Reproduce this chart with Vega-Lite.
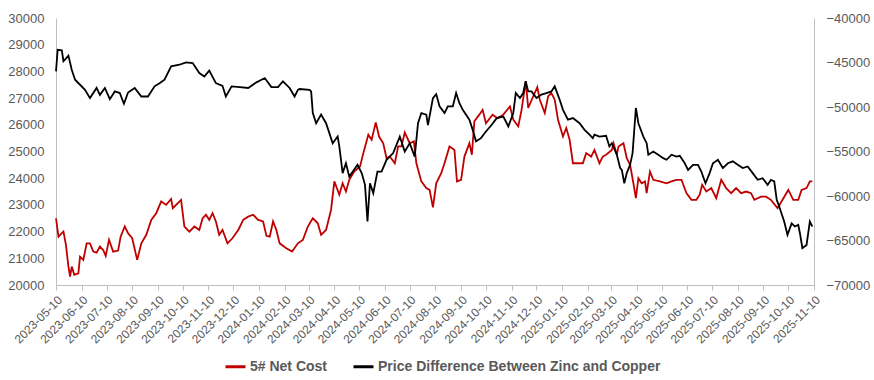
{
  "$schema": "https://vega.github.io/schema/vega-lite/v6.json",
  "width": 758,
  "height": 267,
  "autosize": {"type": "none"},
  "padding": {"left": 56, "top": 18, "right": 60, "bottom": 95},
  "background": "white",
  "config": {
    "view": {"stroke": null},
    "font": "Liberation Sans",
    "axis": {"grid": false, "domainColor": "#BFBFBF", "labelColor": "#595959", "tickColor": "#BFBFBF", "labelFont": "Liberation Sans"}
  },
  "datasets": {
    "cost": [
      {"d":"2023-05-10","v":22500},{"d":"2023-05-13","v":21810},{"d":"2023-05-17","v":21940},{"d":"2023-05-19","v":22000},{"d":"2023-05-22","v":21500},{"d":"2023-05-25","v":20690},{"d":"2023-05-27","v":20310},{"d":"2023-05-29","v":20690},{"d":"2023-06-01","v":20380},{"d":"2023-06-06","v":20440},{"d":"2023-06-08","v":21060},{"d":"2023-06-12","v":20940},{"d":"2023-06-16","v":21560},{"d":"2023-06-20","v":21560},{"d":"2023-06-24","v":21250},{"d":"2023-06-28","v":21210},{"d":"2023-07-02","v":21440},{"d":"2023-07-06","v":21310},{"d":"2023-07-09","v":21090},{"d":"2023-07-13","v":21690},{"d":"2023-07-18","v":21250},{"d":"2023-07-24","v":21290},{"d":"2023-07-27","v":21810},{"d":"2023-08-01","v":22190},{"d":"2023-08-05","v":21940},{"d":"2023-08-10","v":21750},{"d":"2023-08-16","v":20940},{"d":"2023-08-21","v":21560},{"d":"2023-08-27","v":21880},{"d":"2023-09-02","v":22440},{"d":"2023-09-08","v":22690},{"d":"2023-09-14","v":23130},{"d":"2023-09-20","v":23000},{"d":"2023-09-26","v":23220},{"d":"2023-09-28","v":22880},{"d":"2023-10-08","v":23190},{"d":"2023-10-12","v":22190},{"d":"2023-10-18","v":22000},{"d":"2023-10-24","v":22190},{"d":"2023-10-30","v":22060},{"d":"2023-11-03","v":22500},{"d":"2023-11-07","v":22630},{"d":"2023-11-11","v":22440},{"d":"2023-11-15","v":22690},{"d":"2023-11-19","v":22380},{"d":"2023-11-23","v":21880},{"d":"2023-11-27","v":22060},{"d":"2023-12-03","v":21560},{"d":"2023-12-09","v":21750},{"d":"2023-12-16","v":22060},{"d":"2023-12-22","v":22440},{"d":"2023-12-28","v":22560},{"d":"2024-01-03","v":22630},{"d":"2024-01-09","v":22440},{"d":"2024-01-15","v":22380},{"d":"2024-01-19","v":21840},{"d":"2024-01-23","v":21810},{"d":"2024-01-27","v":22380},{"d":"2024-01-31","v":22060},{"d":"2024-02-04","v":21560},{"d":"2024-02-12","v":21380},{"d":"2024-02-19","v":21250},{"d":"2024-02-26","v":21560},{"d":"2024-03-03","v":21690},{"d":"2024-03-09","v":22190},{"d":"2024-03-15","v":22500},{"d":"2024-03-21","v":22310},{"d":"2024-03-25","v":21880},{"d":"2024-03-31","v":22060},{"d":"2024-04-06","v":22810},{"d":"2024-04-10","v":23880},{"d":"2024-04-16","v":23380},{"d":"2024-04-20","v":23810},{"d":"2024-04-24","v":23500},{"d":"2024-04-28","v":23940},{"d":"2024-05-04","v":24250},{"d":"2024-05-11","v":24440},{"d":"2024-05-15","v":24940},{"d":"2024-05-21","v":25630},{"d":"2024-05-25","v":25440},{"d":"2024-05-30","v":26090},{"d":"2024-06-03","v":25560},{"d":"2024-06-08","v":25310},{"d":"2024-06-12","v":24750},{"d":"2024-06-16","v":24810},{"d":"2024-06-22","v":24560},{"d":"2024-06-26","v":25190},{"d":"2024-06-30","v":25190},{"d":"2024-07-04","v":25710},{"d":"2024-07-10","v":25310},{"d":"2024-07-15","v":25380},{"d":"2024-07-18","v":24560},{"d":"2024-07-24","v":23880},{"d":"2024-07-30","v":23630},{"d":"2024-08-03","v":23560},{"d":"2024-08-07","v":22910},{"d":"2024-08-11","v":23810},{"d":"2024-08-17","v":24190},{"d":"2024-08-21","v":24560},{"d":"2024-08-27","v":25190},{"d":"2024-09-02","v":25060},{"d":"2024-09-05","v":23880},{"d":"2024-09-10","v":23940},{"d":"2024-09-14","v":24810},{"d":"2024-09-20","v":25310},{"d":"2024-09-23","v":24880},{"d":"2024-09-26","v":26130},{"d":"2024-10-02","v":26380},{"d":"2024-10-06","v":26560},{"d":"2024-10-10","v":26060},{"d":"2024-10-18","v":26380},{"d":"2024-10-24","v":26250},{"d":"2024-10-31","v":26380},{"d":"2024-11-08","v":26690},{"d":"2024-11-12","v":26190},{"d":"2024-11-18","v":25940},{"d":"2024-11-22","v":26560},{"d":"2024-11-27","v":27630},{"d":"2024-11-30","v":26630},{"d":"2024-12-06","v":27060},{"d":"2024-12-11","v":27410},{"d":"2024-12-14","v":26940},{"d":"2024-12-20","v":26440},{"d":"2024-12-24","v":27060},{"d":"2024-12-28","v":27190},{"d":"2025-01-01","v":26940},{"d":"2025-01-05","v":26190},{"d":"2025-01-11","v":25560},{"d":"2025-01-15","v":25880},{"d":"2025-01-19","v":25440},{"d":"2025-01-23","v":24560},{"d":"2025-01-29","v":24560},{"d":"2025-02-04","v":24560},{"d":"2025-02-08","v":24940},{"d":"2025-02-14","v":24810},{"d":"2025-02-18","v":25060},{"d":"2025-02-24","v":24560},{"d":"2025-02-28","v":24810},{"d":"2025-03-04","v":24880},{"d":"2025-03-11","v":25060},{"d":"2025-03-13","v":25310},{"d":"2025-03-17","v":24880},{"d":"2025-03-19","v":25190},{"d":"2025-03-25","v":25310},{"d":"2025-03-29","v":24750},{"d":"2025-04-02","v":24500},{"d":"2025-04-06","v":23810},{"d":"2025-04-09","v":23250},{"d":"2025-04-12","v":24000},{"d":"2025-04-16","v":23810},{"d":"2025-04-20","v":23880},{"d":"2025-04-22","v":23440},{"d":"2025-04-26","v":24250},{"d":"2025-04-30","v":23940},{"d":"2025-05-08","v":23880},{"d":"2025-05-16","v":23810},{"d":"2025-05-22","v":23880},{"d":"2025-05-28","v":23940},{"d":"2025-06-03","v":23940},{"d":"2025-06-09","v":23440},{"d":"2025-06-15","v":23190},{"d":"2025-06-21","v":23190},{"d":"2025-06-25","v":23380},{"d":"2025-06-28","v":23750},{"d":"2025-07-03","v":23500},{"d":"2025-07-09","v":23630},{"d":"2025-07-15","v":23250},{"d":"2025-07-21","v":23940},{"d":"2025-07-27","v":23630},{"d":"2025-08-02","v":23440},{"d":"2025-08-08","v":23630},{"d":"2025-08-14","v":23440},{"d":"2025-08-20","v":23500},{"d":"2025-08-26","v":23440},{"d":"2025-08-30","v":23190},{"d":"2025-09-07","v":23310},{"d":"2025-09-13","v":23310},{"d":"2025-09-19","v":23190},{"d":"2025-09-27","v":22880},{"d":"2025-10-03","v":23190},{"d":"2025-10-10","v":23560},{"d":"2025-10-16","v":23190},{"d":"2025-10-22","v":23190},{"d":"2025-10-26","v":23560},{"d":"2025-11-01","v":23630},{"d":"2025-11-05","v":23880},{"d":"2025-11-08","v":23880}
    ],
    "diff": [
      {"d":"2023-05-10","v":-46000},{"d":"2023-05-12","v":-43570},{"d":"2023-05-17","v":-43630},{"d":"2023-05-19","v":-44860},{"d":"2023-05-25","v":-44230},{"d":"2023-05-29","v":-45820},{"d":"2023-06-02","v":-46930},{"d":"2023-06-08","v":-47500},{"d":"2023-06-14","v":-48070},{"d":"2023-06-20","v":-49000},{"d":"2023-06-28","v":-47860},{"d":"2023-07-02","v":-48640},{"d":"2023-07-08","v":-47860},{"d":"2023-07-14","v":-49120},{"d":"2023-07-20","v":-48250},{"d":"2023-07-26","v":-48430},{"d":"2023-07-31","v":-49630},{"d":"2023-08-05","v":-48370},{"d":"2023-08-13","v":-47860},{"d":"2023-08-21","v":-48820},{"d":"2023-08-29","v":-48820},{"d":"2023-09-06","v":-47680},{"d":"2023-09-12","v":-47320},{"d":"2023-09-18","v":-46930},{"d":"2023-09-26","v":-45430},{"d":"2023-10-06","v":-45250},{"d":"2023-10-14","v":-44980},{"d":"2023-10-22","v":-45070},{"d":"2023-10-30","v":-46180},{"d":"2023-11-05","v":-46570},{"d":"2023-11-11","v":-45910},{"d":"2023-11-19","v":-47320},{"d":"2023-11-27","v":-47620},{"d":"2023-12-01","v":-48820},{"d":"2023-12-08","v":-47680},{"d":"2023-12-18","v":-47770},{"d":"2023-12-28","v":-47860},{"d":"2024-01-07","v":-47230},{"d":"2024-01-17","v":-46750},{"d":"2024-01-25","v":-47770},{"d":"2024-02-02","v":-47770},{"d":"2024-02-08","v":-47110},{"d":"2024-02-16","v":-47860},{"d":"2024-02-22","v":-48820},{"d":"2024-02-26","v":-48070},{"d":"2024-02-28","v":-47980},{"d":"2024-03-11","v":-48070},{"d":"2024-03-13","v":-48250},{"d":"2024-03-15","v":-50680},{"d":"2024-03-19","v":-51820},{"d":"2024-03-25","v":-50860},{"d":"2024-03-31","v":-51820},{"d":"2024-04-08","v":-54070},{"d":"2024-04-14","v":-53320},{"d":"2024-04-16","v":-54430},{"d":"2024-04-20","v":-57430},{"d":"2024-04-24","v":-56320},{"d":"2024-04-28","v":-57820},{"d":"2024-05-08","v":-56500},{"d":"2024-05-13","v":-57430},{"d":"2024-05-17","v":-58750},{"d":"2024-05-20","v":-62860},{"d":"2024-05-23","v":-58570},{"d":"2024-05-27","v":-59680},{"d":"2024-06-01","v":-57250},{"d":"2024-06-06","v":-57250},{"d":"2024-06-12","v":-55930},{"d":"2024-06-20","v":-55180},{"d":"2024-06-28","v":-53320},{"d":"2024-07-04","v":-55000},{"d":"2024-07-10","v":-54070},{"d":"2024-07-16","v":-55570},{"d":"2024-07-20","v":-51820},{"d":"2024-07-24","v":-50680},{"d":"2024-07-30","v":-50860},{"d":"2024-08-01","v":-52030},{"d":"2024-08-07","v":-49000},{"d":"2024-08-11","v":-48550},{"d":"2024-08-15","v":-49930},{"d":"2024-08-21","v":-50680},{"d":"2024-08-25","v":-49930},{"d":"2024-08-31","v":-49930},{"d":"2024-09-04","v":-48430},{"d":"2024-09-08","v":-49570},{"d":"2024-09-12","v":-50320},{"d":"2024-09-20","v":-51430},{"d":"2024-09-24","v":-52570},{"d":"2024-09-28","v":-53860},{"d":"2024-10-04","v":-53500},{"d":"2024-10-10","v":-52750},{"d":"2024-10-17","v":-52000},{"d":"2024-10-23","v":-51250},{"d":"2024-10-31","v":-51070},{"d":"2024-11-06","v":-52180},{"d":"2024-11-12","v":-50680},{"d":"2024-11-15","v":-48430},{"d":"2024-11-20","v":-49000},{"d":"2024-11-24","v":-48430},{"d":"2024-11-27","v":-47110},{"d":"2024-11-30","v":-48250},{"d":"2024-12-04","v":-48250},{"d":"2024-12-10","v":-49000},{"d":"2024-12-16","v":-48610},{"d":"2024-12-22","v":-48430},{"d":"2024-12-28","v":-48250},{"d":"2025-01-01","v":-47680},{"d":"2025-01-07","v":-49180},{"d":"2025-01-11","v":-50320},{"d":"2025-01-17","v":-51430},{"d":"2025-01-23","v":-51250},{"d":"2025-01-31","v":-51820},{"d":"2025-02-06","v":-52570},{"d":"2025-02-12","v":-53110},{"d":"2025-02-16","v":-53500},{"d":"2025-02-18","v":-53110},{"d":"2025-02-24","v":-53320},{"d":"2025-03-04","v":-53230},{"d":"2025-03-08","v":-54430},{"d":"2025-03-11","v":-54070},{"d":"2025-03-17","v":-55360},{"d":"2025-03-21","v":-56860},{"d":"2025-03-23","v":-57070},{"d":"2025-03-26","v":-58570},{"d":"2025-03-29","v":-57430},{"d":"2025-04-02","v":-56500},{"d":"2025-04-05","v":-55180},{"d":"2025-04-09","v":-50110},{"d":"2025-04-12","v":-51820},{"d":"2025-04-18","v":-53320},{"d":"2025-04-22","v":-54070},{"d":"2025-04-24","v":-55360},{"d":"2025-04-30","v":-55000},{"d":"2025-05-06","v":-55360},{"d":"2025-05-12","v":-55750},{"d":"2025-05-16","v":-55930},{"d":"2025-05-22","v":-55360},{"d":"2025-05-28","v":-55570},{"d":"2025-06-01","v":-55480},{"d":"2025-06-07","v":-56320},{"d":"2025-06-11","v":-57070},{"d":"2025-06-17","v":-56500},{"d":"2025-06-23","v":-56500},{"d":"2025-06-27","v":-57250},{"d":"2025-07-02","v":-58570},{"d":"2025-07-07","v":-57430},{"d":"2025-07-11","v":-56320},{"d":"2025-07-17","v":-55930},{"d":"2025-07-23","v":-56860},{"d":"2025-07-29","v":-56320},{"d":"2025-08-04","v":-56110},{"d":"2025-08-10","v":-56500},{"d":"2025-08-16","v":-56860},{"d":"2025-08-22","v":-56680},{"d":"2025-08-28","v":-57430},{"d":"2025-09-03","v":-58180},{"d":"2025-09-09","v":-58000},{"d":"2025-09-15","v":-58750},{"d":"2025-09-19","v":-58180},{"d":"2025-09-23","v":-58360},{"d":"2025-09-26","v":-60430},{"d":"2025-09-29","v":-61180},{"d":"2025-10-05","v":-62860},{"d":"2025-10-09","v":-64360},{"d":"2025-10-14","v":-63070},{"d":"2025-10-18","v":-63430},{"d":"2025-10-22","v":-63250},{"d":"2025-10-24","v":-64180},{"d":"2025-10-27","v":-65860},{"d":"2025-11-01","v":-65500},{"d":"2025-11-05","v":-62860},{"d":"2025-11-08","v":-63430}
    ]
  },
  "encoding": {
    "x": {
      "field": "d",
      "type": "temporal",
      "scale": {"type": "utc", "domain": [{"year": 2023, "month": 5, "date": 10, "utc": true}, {"year": 2025, "month": 11, "date": 10, "utc": true}]},
      "axis": {
        "title": null,
        "format": "%Y-%m-%d",
        "values": [
          {"year":2023,"month":5,"date":10,"utc":true},{"year":2023,"month":6,"date":10,"utc":true},{"year":2023,"month":7,"date":10,"utc":true},{"year":2023,"month":8,"date":10,"utc":true},{"year":2023,"month":9,"date":10,"utc":true},{"year":2023,"month":10,"date":10,"utc":true},{"year":2023,"month":11,"date":10,"utc":true},{"year":2023,"month":12,"date":10,"utc":true},
          {"year":2024,"month":1,"date":10,"utc":true},{"year":2024,"month":2,"date":10,"utc":true},{"year":2024,"month":3,"date":10,"utc":true},{"year":2024,"month":4,"date":10,"utc":true},{"year":2024,"month":5,"date":10,"utc":true},{"year":2024,"month":6,"date":10,"utc":true},{"year":2024,"month":7,"date":10,"utc":true},{"year":2024,"month":8,"date":10,"utc":true},{"year":2024,"month":9,"date":10,"utc":true},{"year":2024,"month":10,"date":10,"utc":true},{"year":2024,"month":11,"date":10,"utc":true},{"year":2024,"month":12,"date":10,"utc":true},
          {"year":2025,"month":1,"date":10,"utc":true},{"year":2025,"month":2,"date":10,"utc":true},{"year":2025,"month":3,"date":10,"utc":true},{"year":2025,"month":4,"date":10,"utc":true},{"year":2025,"month":5,"date":10,"utc":true},{"year":2025,"month":6,"date":10,"utc":true},{"year":2025,"month":7,"date":10,"utc":true},{"year":2025,"month":8,"date":10,"utc":true},{"year":2025,"month":9,"date":10,"utc":true},{"year":2025,"month":10,"date":10,"utc":true},{"year":2025,"month":11,"date":10,"utc":true}
        ],
        "labelAngle": -45,
        "labelAlign": "right",
        "labelBaseline": "top",
        "labelFontSize": 12,
        "labelPadding": 4,
        "tickSize": 5,
        "labelOverlap": false,
        "labelBound": false,
        "labelFlush": false
      }
    }
  },
  "layer": [
    {
      "data": {"name": "cost"},
      "mark": {"type": "line", "strokeWidth": 1.8, "interpolate": "linear"},
      "encoding": {
        "y": {
          "field": "v",
          "type": "quantitative",
          "scale": {"domain": [20000, 30000], "zero": false, "nice": false},
          "axis": {"title": null, "orient": "left", "values": [20000,21000,22000,23000,24000,25000,26000,27000,28000,29000,30000], "format": "d", "labelFontSize": 13, "ticks": false, "labelPadding": 12, "labelOverlap": false}
        },
        "color": {
          "datum": "5# Net Cost",
          "type": "nominal",
          "scale": {"domain": ["5# Net Cost", "Price Difference Between Zinc and Copper"], "range": ["#C00000", "#000000"]},
          "legend": {
            "title": null,
            "orient": "none",
            "legendX": 168,
            "legendY": 337,
            "direction": "horizontal",
            "symbolType": "stroke",
            "symbolStrokeWidth": 3,
            "symbolSize": 400,
            "labelFontSize": 14,
            "labelFontWeight": "bold",
            "labelColor": "#595959",
            "labelLimit": 400,
            "columnPadding": 19,
            "labelOffset": 3
          }
        }
      }
    },
    {
      "data": {"name": "diff"},
      "mark": {"type": "line", "strokeWidth": 1.8, "interpolate": "linear"},
      "encoding": {
        "y": {
          "field": "v",
          "type": "quantitative",
          "scale": {"domain": [-70000, -40000], "zero": false, "nice": false},
          "axis": {"title": null, "orient": "right", "values": [-70000,-65000,-60000,-55000,-50000,-45000,-40000], "format": "d", "labelFontSize": 13, "ticks": false, "labelPadding": 12, "labelOverlap": false}
        },
        "color": {"datum": "Price Difference Between Zinc and Copper", "type": "nominal"}
      }
    }
  ],
  "resolve": {"scale": {"y": "independent"}}
}
